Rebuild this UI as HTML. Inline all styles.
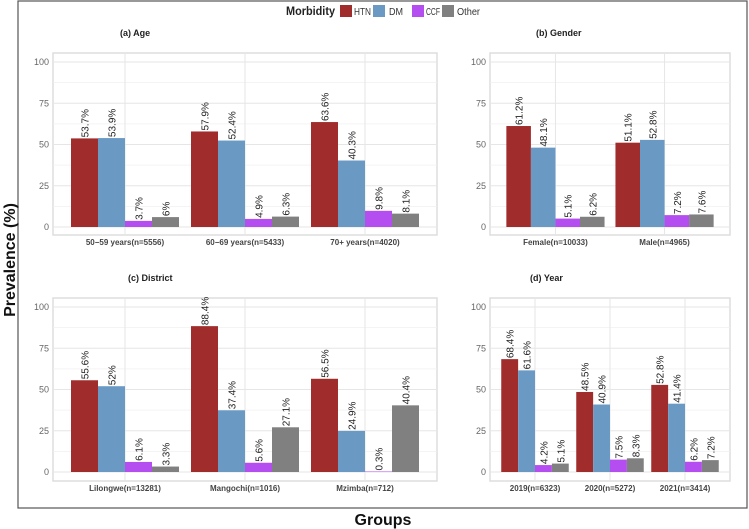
<!DOCTYPE html>
<html><head><meta charset="utf-8"><style>
body{margin:0;background:#fff;}
svg{display:block;font-family:"Liberation Sans",Arial,sans-serif;}
</style></head><body>
<svg id="c" width="749" height="529" viewBox="0 0 749 529">
<rect x="18" y="1" width="729" height="507" fill="#fff" stroke="#555" stroke-width="1.2"/>
<g>
<text x="286" y="15" font-size="12" font-weight="bold" fill="#222" textLength="49" lengthAdjust="spacingAndGlyphs">Morbidity</text>
<rect x="340" y="5" width="12" height="12" fill="#a02c2c"/>
<text x="354" y="15" font-size="10" fill="#333" textLength="17" lengthAdjust="spacingAndGlyphs">HTN</text>
<rect x="373" y="5" width="12" height="12" fill="#6a9ac4"/>
<text x="389" y="15" font-size="10" fill="#333" textLength="14" lengthAdjust="spacingAndGlyphs">DM</text>
<rect x="412" y="5" width="12" height="12" fill="#b44ef0"/>
<text x="426" y="15" font-size="10" fill="#333" textLength="14" lengthAdjust="spacingAndGlyphs">CCF</text>
<rect x="442" y="5" width="12" height="12" fill="#808080"/>
<text x="457" y="15" font-size="10" fill="#333" textLength="23" lengthAdjust="spacingAndGlyphs">Other</text>
</g>
<text transform="translate(15,260) rotate(-90)" text-anchor="middle" font-size="16" font-weight="bold" fill="#111">Prevalence (%)</text>
<text x="383" y="525" text-anchor="middle" font-size="16" font-weight="bold" fill="#111">Groups</text>
</svg>
<script>
const seriesNames=["HTN","DM","CCF","Other"];
const yTicks=[0,25,50,75,100];
const ageCats=["50\u221259 years(n=5556)","60\u221269 years(n=5433)","70+ years(n=4020)"];
const ageHTN=[53.7,57.9,63.6];
const ageDM=[53.9,52.4,40.3];
const ageCCF=[3.7,4.9,9.8];
const ageOther=[6,6.3,8.1];
const genderCats=["Female(n=10033)","Male(n=4965)"];
const genderHTN=[61.2,51.1];
const genderDM=[48.1,52.8];
const genderCCF=[5.1,7.2];
const genderOther=[6.2,7.6];
const districtCats=["Lilongwe(n=13281)","Mangochi(n=1016)","Mzimba(n=712)"];
const districtHTN=[55.6,88.4,56.5];
const districtDM=[52,37.4,24.9];
const districtCCF=[6.1,5.6,0.3];
const districtOther=[3.3,27.1,40.4];
const yearCats=["2019(n=6323)","2020(n=5272)","2021(n=3414)"];
const yearHTN=[68.4,48.5,52.8];
const yearDM=[61.6,40.9,41.4];
const yearCCF=[4.2,7.5,6.2];
const yearOther=[5.1,8.3,7.2];

const colors=["#a02c2c","#6a9ac4","#b44ef0","#808080"];
const NS="http://www.w3.org/2000/svg";
const svg=document.getElementById("c");
function mk(tag,attrs,parent){const e=document.createElementNS(NS,tag);for(const k in attrs)e.setAttribute(k,attrs[k]);(parent||svg).appendChild(e);return e;}

function panel(key,title,titleX,titleY,x0,x1,yTop,yBot,y0px,y100px,cats,series){
  const g=mk("g",{});
  
  
  const n=cats.length;
  const step=(x1-x0)/(n+0.2);
  const xScale=i=>x0+step*(0.6+i);
  const yScale=v=>y0px+(y100px-y0px)*v/100;
  const t=mk("text",{x:titleX,y:titleY,"font-size":"9","font-weight":"bold",fill:"#222"},g);
  t.textContent=title;
  
  
  const bg=mk("rect",{x:x0,y:yTop,width:x1-x0,height:yBot-yTop,fill:"#fff",stroke:"#ddd","stroke-width":"1.5"},g);
  
  
  for(let k=0;k<yTicks.length-1;k++){
    const m=(yTicks[k]+yTicks[k+1])/2;
    mk("line",{x1:x0,x2:x1,y1:yScale(m),y2:yScale(m),stroke:"#f0f0f0","stroke-width":"0.8"},g);
  }
  yTicks.forEach(v=>{
    const l=mk("line",{x1:x0,x2:x1,y1:yScale(v),y2:yScale(v),stroke:"#e6e6e6","stroke-width":"1"},g);
    
    
    const tx=mk("text",{x:x0-4,y:yScale(v)+3,"text-anchor":"end","font-size":"9",fill:"#666"},g);
    tx.textContent=v;
    
    
  });
  cats.forEach((c,i)=>{
    mk("line",{x1:xScale(i),x2:xScale(i),y1:yTop,y2:yBot,stroke:"#e6e6e6","stroke-width":"1"},g);
    const tx=mk("text",{x:xScale(i),y:yBot+10,"text-anchor":"middle","font-size":"8","font-weight":"bold",fill:"#444"},g);
    tx.textContent=c;
    
    
  });
  const bw=step*0.9/4;
  series.forEach((arr,s)=>{
    arr.forEach((v,i)=>{
      const bx=xScale(i)-step*0.45+s*bw;
      const r=mk("rect",{x:bx,y:yScale(v),width:bw,height:yScale(0)-yScale(v),fill:colors[s]},g);
      
      
      const lx=bx+bw/2+4,ly=yScale(v)-1;
      const lb=mk("text",{transform:"translate("+lx+","+ly+") rotate(-90)","font-size":"10",fill:"#222"},g);
      lb.textContent=v+"%";
      
      
    });
  });
}
panel("age","(a) Age",120,36,53,437,53,235,227,62,ageCats,[ageHTN,ageDM,ageCCF,ageOther]);
panel("gender","(b) Gender",536,36,490,730,53,235,227,62,genderCats,[genderHTN,genderDM,genderCCF,genderOther]);
panel("district","(c) District",128,281,53,437,298,481,472,307,districtCats,[districtHTN,districtDM,districtCCF,districtOther]);
panel("year","(d) Year",530,281,490,730,298,481,472,307,yearCats,[yearHTN,yearDM,yearCCF,yearOther]);
</script>
</body></html>
